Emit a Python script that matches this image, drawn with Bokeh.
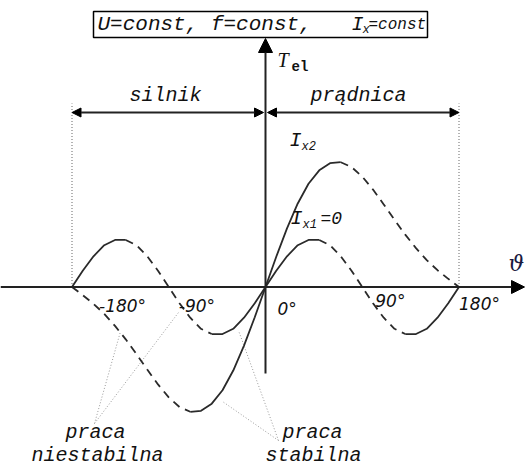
import numpy as np
from bokeh.plotting import figure
from bokeh.models import Range1d, Arrow, NormalHead
from bokeh.core.properties import value
from bokeh.embed import file_html
from bokeh.resources import INLINE

# Load angle (degrees) and electromagnetic torque (relative units)
theta = list(range(-180, 181, 10))
torque_ix2 = [0.00, -0.17, -0.35, -0.56, -0.81, -1.09, -1.40, -1.72, -2.03, -2.30,
              -2.50, -2.60, -2.58, -2.43, -2.15, -1.74, -1.22, -0.63, 0.00,
              0.63, 1.22, 1.74, 2.15, 2.43, 2.58, 2.60, 2.50, 2.30, 2.03,
              1.72, 1.40, 1.09, 0.81, 0.56, 0.35, 0.17, 0.00]
torque_ix1 = [0.00, 0.34, 0.64, 0.87, 0.98, 0.98, 0.87, 0.64, 0.34, 0.00,
              -0.34, -0.64, -0.87, -0.98, -0.98, -0.87, -0.64, -0.34, 0.00,
              0.34, 0.64, 0.87, 0.98, 0.98, 0.87, 0.64, 0.34, 0.00,
              -0.34, -0.64, -0.87, -0.98, -0.98, -0.87, -0.64, -0.34, 0.00]

# Stable operating ranges (dT/dtheta > 0) -> solid, the rest dashed
stable_ix2 = [(-70, 70)]
stable_ix1 = [(-180, -130), (-50, 50), (130, 180)]

tick_angles = [-180, -90, 0, 90, 180]
tick_labels = ["-180°", "-90°", "0°", "90°", "180°"]

W, H = 525, 466
X0, Y0 = 265, 286.5      # pixel position of the origin
SX, SY = 1.075, 48.0     # pixels per degree, pixels per torque unit


def px(X):
    return (X - X0) / SX


def py(Y):
    return (Y0 - Y) / SY


p = figure(width=W, height=H, x_range=Range1d(px(0), px(W)),
           y_range=Range1d(py(H), py(0)), output_backend="svg",
           toolbar_location=None, min_border=0,
           x_axis_location=None, y_axis_location=None)
p.grid.visible = False
p.outline_line_color = None
p.background_fill_color = "white"

MONO = "Liberation Mono"
CURVE = "#2a2a2a"
DOT = "#9a9a9a"


def txt(X, Y, s, size, font=MONO, style="italic", align="left", color="#111111"):
    p.text(x=[px(X)], y=[py(Y)], text=[s], text_font=value(font),
           text_font_size=f"{size}px", text_font_style=style,
           text_align=align, text_baseline="middle", text_color=color)


# dotted limits of the motor / generator regions
p.segment(x0=[-180, 180], y0=[0, 0], x1=[-180, 180], y1=[py(103), py(103)],
          line_color=DOT, line_width=1.5, line_dash="1 2")

# leader lines to the stable / unstable branches
leaders = [((94, 423), (178, 312)), ((94, 423), (120, 331)),
           ((278, 440), (238, 330)), ((278, 440), (222, 401))]
p.segment(x0=[px(a[0]) for a, b in leaders], y0=[py(a[1]) for a, b in leaders],
          x1=[px(b[0]) for a, b in leaders], y1=[py(b[1]) for a, b in leaders],
          line_color=DOT, line_width=1, line_dash="1 2")


def draw_curve(vals, stable):
    th = np.array(theta)
    v = np.array(vals)
    bounds = sorted(set([theta[0], theta[-1]] + [b for r in stable for b in r]))
    for a, b in zip(bounds[:-1], bounds[1:]):
        m = (th >= a) & (th <= b)
        solid = any(lo <= a and b <= hi for lo, hi in stable)
        p.line(th[m], v[m], line_color=CURVE, line_width=1.8,
               line_dash="solid" if solid else "8 6")


draw_curve(torque_ix2, stable_ix2)
draw_curve(torque_ix1, stable_ix1)

# axes with arrow heads
p.add_layout(Arrow(end=NormalHead(size=13, fill_color="black", line_color="black"),
                   x_start=px(0), y_start=0, x_end=px(524), y_end=0,
                   line_width=2, line_color="#222222"))
p.add_layout(Arrow(end=NormalHead(size=14, fill_color="black", line_color="black"),
                   x_start=0, y_start=py(373), x_end=0, y_end=py(38),
                   line_width=2, line_color="#222222"))

# motor / generator range arrows
for xa, xb in [(theta[0], px(263)), (px(267), theta[-1])]:
    p.add_layout(Arrow(start=NormalHead(size=9, fill_color="black", line_color="black"),
                       end=NormalHead(size=9, fill_color="black", line_color="black"),
                       x_start=xa, y_start=py(112), x_end=xb, y_end=py(112),
                       line_width=2, line_color="#222222"))

# header box
p.quad(left=[px(93)], right=[px(427)], top=[py(11)], bottom=[py(37)],
       fill_color="white", line_color="black", line_width=1.5)
txt(97, 24, "U=const, f=const,", 21)
txt(351, 24, "I", 20)
txt(362, 29, "x", 12)
txt(368, 24, "=const", 16)

# region labels
txt(165, 95, "silnik", 20, align="center")
txt(358, 95, "prądnica", 20, align="center")

# axis titles
txt(277, 59, "T", 20, font="Liberation Serif")
txt(291, 66, "el", 14, style="bold")
txt(508, 263, "ϑ", 22, font="DejaVu Serif", color="#1a1a40")

# curve labels
txt(289, 140, "I", 20)
txt(301, 146, "x2", 12)
txt(290, 218, "I", 20)
txt(302, 224, "x1", 12)
txt(320, 218, "=0", 18)

# angle tick labels
tick_offsets = [(27, 305), (10, 305), (12, 308), (13, 300), (0, 303)]
for ang, lab, (dxo, yo) in zip(tick_angles, tick_labels, tick_offsets):
    txt(X0 + ang * SX + dxo, yo, lab, 17, font="DejaVu Sans")

# operating mode labels
txt(95, 432, "praca", 20, align="center")
txt(97, 455, "niestabilna", 20, align="center")
txt(312, 432, "praca", 20, align="center")
txt(313, 455, "stabilna", 20, align="center")

open("out.html", "w").write(file_html(p, INLINE))
